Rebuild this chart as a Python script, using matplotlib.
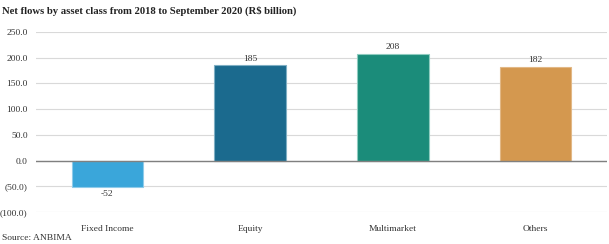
import numpy as np
import matplotlib.pyplot as plt
from matplotlib.ticker import FuncFormatter

categories = ['Fixed Income', 'Equity', 'Multimarket', 'Others']
values = [-52, 185, 208, 182]
colors = ['#3AA6DA', '#1B6A8E', '#1B8C7A', '#D4984F']
edges = ['#8FCBEA', '#7FAFC4', '#8FCCC0', '#E2B886']

plt.rcParams['font.family'] = ['Liberation Serif', 'DejaVu Serif']

def fmt(v, pos):
    if v < 0:
        return '({:.1f})'.format(-v)
    return '{:.1f}'.format(v)

fig = plt.figure(figsize=(6.09, 2.44), dpi=100)
ax = fig.add_axes([0.059, 0.131, 0.938, 0.738])

x = np.arange(len(categories))
ax.bar(x, values, width=0.5, color=colors, edgecolor=edges, linewidth=0.8, zorder=3)
for xi, v in zip(x, values):
    if v < 0:
        ax.text(xi, v - 5, str(v), ha='center', va='top', fontsize=6.8, color='#333333')
    else:
        ax.text(xi, v + 5, str(v), ha='center', va='bottom', fontsize=6.8, color='#333333')

ax.set_ylim(-100, 250)
ax.set_xlim(-0.5, 3.5)
ax.set_yticks(np.arange(-100, 251, 50))
ax.yaxis.set_major_formatter(FuncFormatter(fmt))
ax.grid(axis='y', color='#D9D9D9', linewidth=0.8, zorder=0)
ax.axhline(0, color='#808080', linewidth=1.0, zorder=4)
ax.set_xticks(x)
ax.set_xticklabels(categories)
ax.tick_params(axis='both', length=0, labelsize=6.8, colors='#333333')
ax.tick_params(axis='x', pad=9)
ax.tick_params(axis='y', pad=6)
for s in ax.spines.values():
    s.set_visible(False)

fig.text(0.003, 0.975, 'Net flows by asset class from 2018 to September 2020 (R$ billion)',
         fontsize=7.7, fontweight='bold', ha='left', va='top', color='#222222')
fig.text(0.003, 0.01, 'Source: ANBIMA', fontsize=6.8, ha='left', va='bottom', color='#333333')

plt.savefig('out.png', dpi=100)
plt.close()
